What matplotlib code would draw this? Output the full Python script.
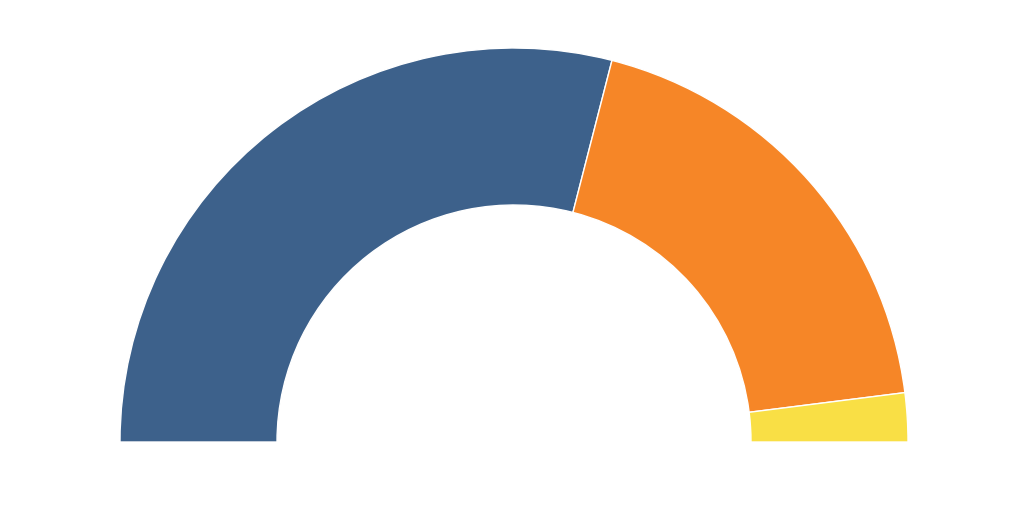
import matplotlib
matplotlib.use("Agg")
import matplotlib.pyplot as plt

# half donut shares (percent of the half circle)
labels = ["A", "B", "C"]
values = [58, 38, 4]
colors = ["#3d618b", "#f68627", "#f9df45"]

W, H = 1024, 512
cx, cy = 514, 442          # center in pixels (from top-left)
r_out, r_in = 394, 237

fig = plt.figure(figsize=(W / 100, H / 100), dpi=100)
ax = fig.add_axes([0, 0, 1, 1])

# add the hidden lower half so the shown part fills 180 degrees
vals = values + [sum(values)]
cols = colors + ["none"]
ax.pie(vals, colors=cols, startangle=180, counterclock=False, radius=1.0,
       wedgeprops=dict(width=(r_out - r_in) / r_out, edgecolor="white", linewidth=1))
# hide edge of the invisible wedge
ax.patches[-1].set_edgecolor("none")

ax.set_aspect("auto")
ax.set_xlim(-cx / r_out, (W - cx) / r_out)
ax.set_ylim(-(H - cy) / r_out, cy / r_out)
ax.axis("off")

fig.savefig("out.png", dpi=100, facecolor="white")
